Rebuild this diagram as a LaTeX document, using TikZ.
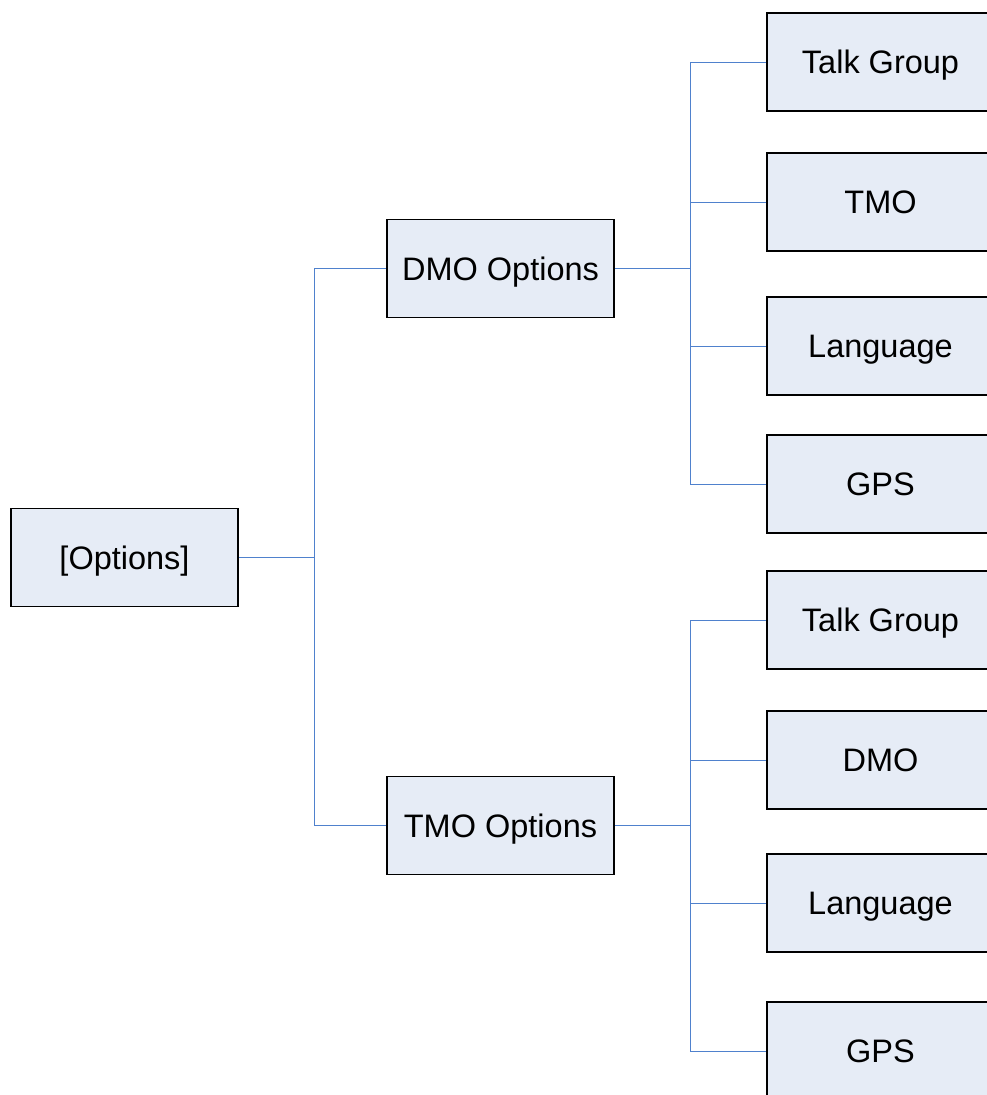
\documentclass[tikz,border=0pt]{standalone}
\usepackage{fontspec}
\setmainfont{Liberation Sans}
\definecolor{boxfill}{RGB}{230,236,246}
\definecolor{linkblue}{RGB}{79,129,205}
\begin{document}
\begin{tikzpicture}[x=1pt,y=-1pt,
  box/.style={draw=black,line width=1.8pt,fill=boxfill,minimum width=227pt,minimum height=98pt,inner sep=0pt,text depth=0pt,font=\fontsize{32.5}{38}\selectfont},
  link/.style={draw=linkblue,line width=1pt}]
\useasboundingbox (0,0) rectangle (987,1095);
\clip (0,0) rectangle (987,1095);
\node[box] (opt) at (124.5,557.5) {[Options]};
\node[box] (dmo) at (500.5,268.5) {DMO Options};
\node[box] (tmo) at (500.5,825.5) {TMO Options};
\node[box] (d1) at (880.5,62) {Talk Group};
\node[box] (d2) at (880.5,202) {TMO};
\node[box] (d3) at (880.5,346) {Language};
\node[box] (d4) at (880.5,484) {GPS};
\node[box] (t1) at (880.5,620) {Talk Group};
\node[box] (t2) at (880.5,760) {DMO};
\node[box] (t3) at (880.5,903) {Language};
\node[box] (t4) at (880.5,1051) {GPS};
\coordinate (ja) at (314,557.5);
\coordinate (jd) at (690,268.5);
\coordinate (jt) at (690,825.5);
\draw[link] (opt.east) -- (ja);
\draw[link] (ja) |- (dmo.west);
\draw[link] (ja) |- (tmo.west);
\draw[link] (dmo.east) -- (jd);
\foreach \n in {d1,d2,d3,d4}{\draw[link] (jd) |- (\n.west);}
\draw[link] (tmo.east) -- (jt);
\foreach \n in {t1,t2,t3,t4}{\draw[link] (jt) |- (\n.west);}
\end{tikzpicture}
\end{document}
